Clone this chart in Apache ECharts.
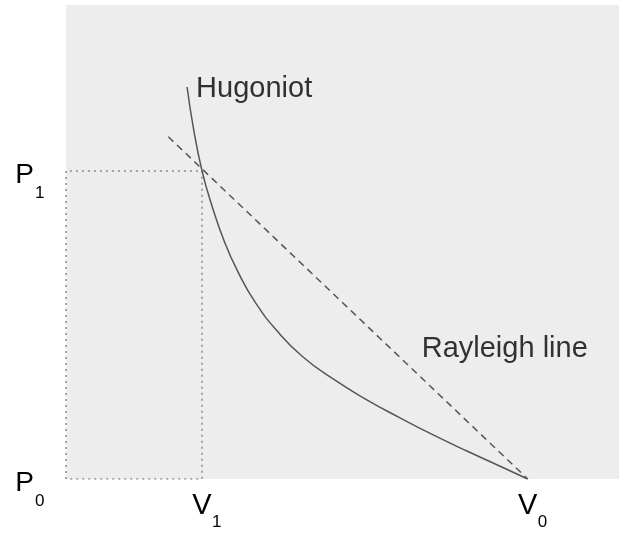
<!DOCTYPE html>
<html>
<head>
<meta charset="utf-8">
<script src="https://cdn.jsdelivr.net/npm/echarts@6/dist/echarts.min.js"></script>
<style>
html,body{margin:0;padding:0;background:#fff;}
#chart{width:619px;height:533px;}
</style>
</head>
<body>
<div id="chart"></div>
<script>
// Hugoniot curve (volume, pressure) in arbitrary units
const hugoniotV = [21.9, 23.0, 24.6, 26.4, 28.6, 31.1, 34.2, 38.2, 42.7, 48.3, 54.4, 60.4, 66.4, 72.5, 78.5, 83.5];
const hugoniotP = [82.7, 74.3, 65.0, 57.6, 50.2, 43.7, 37.3, 31.2, 25.9, 21.1, 16.7, 12.9, 9.3, 5.9, 2.7, 0.0];
// Rayleigh line endpoints
const rayleighV = [18.5, 83.5];
const rayleighP = [72.2, 0.0];
// Tick positions and labels
const xTickValues = [24.6, 83.5];
const xTickMain = ['V', 'V'];
const xTickSub = ['1', '0'];
const yTickValues = [0, 65.0];
const yTickMain = ['P', 'P'];
const yTickSub = ['0', '1'];
const annotationText = ['Hugoniot', 'Rayleigh line'];

const FONT = 'Liberation Sans, Arial, sans-serif';
const V1 = xTickValues[0], P1 = yTickValues[1], P0 = yTickValues[0];

const chart = echarts.init(document.getElementById('chart'), null, {renderer: 'canvas'});

function baseAxis(extra) {
  return Object.assign({
    type: 'value', min: 0, max: 100,
    axisLine: {show: false}, axisTick: {show: false}, splitLine: {show: false}
  }, extra);
}

const option = {
  animation: false,
  grid: {left: 66, top: 5, right: 0, bottom: 54, show: true, backgroundColor: '#ededed', borderWidth: 0},
  xAxis: [
    baseAxis({
      axisLabel: {
        customValues: xTickValues, margin: 12, fontSize: 29, color: '#000', fontFamily: FONT,
        formatter: v => xTickMain[xTickValues.indexOf(v)]
      }
    }),
    baseAxis({
      position: 'bottom',
      axisLabel: {
        customValues: xTickValues, margin: 35, fontSize: 17, color: '#000', fontFamily: FONT,
        align: 'left', padding: [0, 0, 0, 10],
        formatter: v => xTickSub[xTickValues.indexOf(v)]
      }
    })
  ],
  yAxis: [
    baseAxis({
      axisLabel: {
        customValues: yTickValues, margin: 32, fontSize: 28, color: '#000', fontFamily: FONT,
        verticalAlign: 'top', lineHeight: 8,
        formatter: v => yTickMain[yTickValues.indexOf(v)]
      }
    }),
    baseAxis({
      position: 'left',
      axisLabel: {
        customValues: yTickValues, margin: 31, fontSize: 17, color: '#000', fontFamily: FONT,
        align: 'left', verticalAlign: 'top', padding: [14, 0, 0, 0],
        formatter: v => yTickSub[yTickValues.indexOf(v)]
      }
    })
  ],
  series: [
    {
      name: 'box', type: 'line', symbol: 'none', silent: true,
      data: [[0, P0], [0, P1], [V1, P1], [V1, P0], [0, P0]],
      lineStyle: {color: '#888', width: 1.5, type: [2, 4]}
    },
    {
      name: 'Rayleigh', type: 'line', symbol: 'none',
      data: rayleighV.map((v, i) => [v, rayleighP[i]]),
      lineStyle: {color: '#555', width: 1.5, type: [7, 5]}
    },
    {
      name: 'Hugoniot', type: 'line', symbol: 'none', smooth: 0.5,
      data: hugoniotV.map((v, i) => [v, hugoniotP[i]]),
      lineStyle: {color: '#555', width: 1.5}
    },
    {
      name: 'labels', type: 'scatter', symbolSize: 0, silent: true,
      data: [
        [hugoniotV[0], hugoniotP[0], annotationText[0]],
        [62.7, 27.8, annotationText[1]]
      ],
      label: {
        show: true, position: 'right', distance: 8, offset: [1, 2],
        fontSize: 29, color: '#000', fontFamily: FONT,
        formatter: p => p.data[2]
      }
    }
  ]
};
chart.setOption(option);
</script>
</body>
</html>
